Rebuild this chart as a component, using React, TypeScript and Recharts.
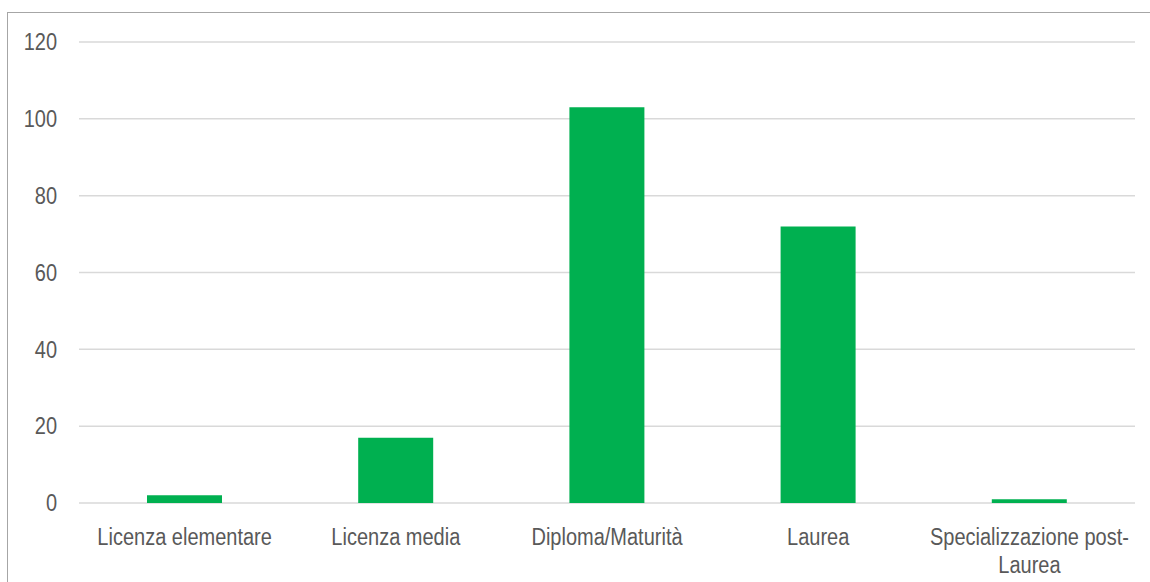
import { BarChart, Bar, XAxis, YAxis, CartesianGrid } from "recharts";

const categories = [
  "Licenza elementare",
  "Licenza media",
  "Diploma/Maturità",
  "Laurea",
  "Specializzazione post-Laurea",
];
const values = [2, 17, 103, 72, 1];
const yTicks = [0, 20, 40, 60, 80, 100, 120];

const data = categories.map((name, i) => ({ name, value: values[i] }));

const FONT = "'Liberation Sans', Arial, sans-serif";
const TEXT = "#595959";
// the original text is slightly stretched vertically
const STRETCH = 1.15;

// split long category labels the way the original wraps them
function wrapLabel(label: string): string[] {
  if (label.length <= 20) return [label];
  const idx = label.lastIndexOf(" ");
  const first = label.slice(0, idx);
  const rest = label.slice(idx + 1);
  // "post-Laurea" breaks after the hyphen
  const dash = rest.indexOf("-");
  if (dash >= 0) return [first + " " + rest.slice(0, dash + 1), rest.slice(dash + 1)];
  return [first, rest];
}

function CategoryTick(props: any) {
  const { x, y, payload } = props;
  const lines = wrapLabel(payload.value);
  return (
    <g transform={`translate(${x},${y}) scale(1,${STRETCH})`}>
      <text x={0} y={0} textAnchor="middle" fill={TEXT} fontSize={20} fontFamily={FONT}>
        {lines.map((l, i) => (
          <tspan key={i} x={0} y={(34 + i * 28) / STRETCH}>
            {l}
          </tspan>
        ))}
      </text>
    </g>
  );
}

function ValueTick(props: any) {
  const { x, y, payload } = props;
  return (
    <g transform={`translate(${x},${y}) scale(1,${STRETCH})`}>
      <text x={0} y={0} dy="0.36em" textAnchor="end" fill={TEXT} fontSize={20} fontFamily={FONT}>
        {payload.value}
      </text>
    </g>
  );
}

export default function App() {
  return (
    <div style={{ position: "absolute", left: 0, top: 0, width: 1150, height: 582, background: "#fff", overflow: "hidden" }}>
      <div
        style={{
          position: "absolute",
          left: 7,
          top: 12,
          width: 1143,
          height: 570,
          borderTop: "1px solid #a6a6a6",
          borderLeft: "1px solid #a6a6a6",
          boxSizing: "border-box",
        }}
      />
      <div style={{ position: "absolute", left: 0, top: 0 }}>
        <BarChart
          width={1150}
          height={582}
          data={data}
          margin={{ top: 42, right: 15, left: 0, bottom: 0 }}
        >
          <CartesianGrid vertical={false} stroke="#d9d9d9" strokeWidth={1.5} />
          <XAxis
            dataKey="name"
            axisLine={false}
            tickLine={false}
            interval={0}
            height={79}
            tick={<CategoryTick />}
          />
          <YAxis
            domain={[0, 120]}
            ticks={yTicks}
            width={79}
            axisLine={false}
            tickLine={false}
            tickSize={0}
            tickMargin={22}
            tick={<ValueTick />}
          />
          <Bar dataKey="value" fill="#00b050" barSize={75} isAnimationActive={false} />
        </BarChart>
      </div>
    </div>
  );
}
